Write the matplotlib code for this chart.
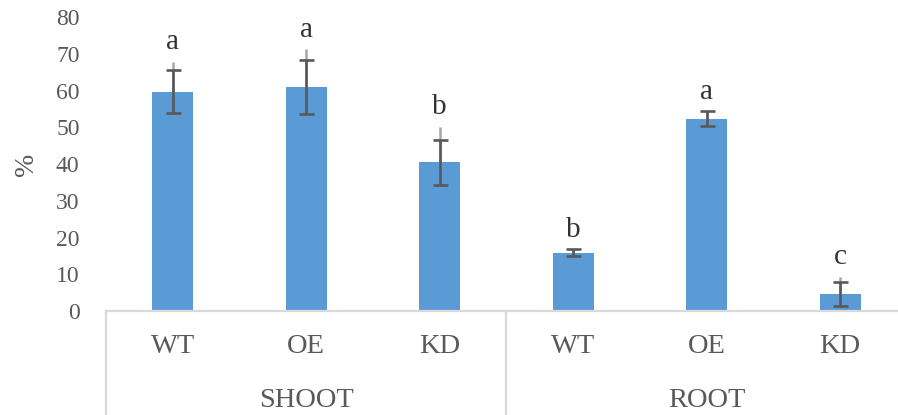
import matplotlib
matplotlib.use('Agg')
import matplotlib.pyplot as plt
import numpy as np

plt.rcParams['font.family'] = ['Liberation Serif', 'DejaVu Serif']

# tissue groups and genotypes
groups = ['SHOOT', 'ROOT']
genotypes = ['WT', 'OE', 'KD']

# mean % per bar (SHOOT WT, OE, KD, ROOT WT, OE, KD)
means = [59.7, 61.0, 40.5, 15.9, 52.3, 4.6]
# standard error (dark capped bars)
errs = [5.8, 7.3, 6.1, 0.9, 2.0, 3.2]
# upper extent of the light whisker above the mean
upper = [8.1, 10.2, 9.6, 0.9, 2.0, 4.7]
# significance letters
letters = ['a', 'a', 'b', 'b', 'a', 'c']

text_col = '#595959'
line_col = '#d9d9d9'

fig = plt.figure(figsize=(8.98, 4.15), dpi=100)
ax = fig.add_axes([0.118, 0.2506, 0.882, 0.7084])

x = np.arange(len(means))
ax.bar(x, means, width=0.305, color='#5B9BD5', zorder=2)

# light whisker first, then the dark capped error bar on top
ax.errorbar(x, means, yerr=[np.zeros(len(means)), upper], fmt='none',
            ecolor='#a6a6a6', elinewidth=1.8, capsize=0, zorder=3)
ax.errorbar(x, means, yerr=errs, fmt='none', ecolor='#595959',
            elinewidth=1.9, capsize=5.4, capthick=1.9, zorder=4)

for xi, m, e, u, lt in zip(x, means, errs, upper, letters):
    top = m + max(e, u)
    ax.annotate(lt, (xi, top), xytext=(0, 9), textcoords='offset points',
                ha='center', va='baseline', fontsize=21, color='#333333')

ax.set_xlim(-0.5, 5.433)
ax.set_ylim(0, 80)
ax.set_yticks(np.arange(0, 81, 10))
ax.tick_params(axis='y', length=0, labelsize=17, labelcolor=text_col, pad=19)
ax.set_xticks([])
for s in ['top', 'right', 'left']:
    ax.spines[s].set_visible(False)
ax.spines['bottom'].set_color(line_col)
ax.spines['bottom'].set_linewidth(1.6)

ax.set_ylabel('%', fontsize=20, color=text_col, labelpad=12)

# two-level category axis
trans = ax.get_xaxis_transform()
for xi in x:
    ax.text(xi, -0.121, genotypes[xi % 3], transform=trans, ha='center',
            va='center', fontsize=20.5, color=text_col)
for gi, g in enumerate(groups):
    ax.text(gi * 3 + 1, -0.303, g, transform=trans, ha='center',
            va='center', fontsize=20.5, color=text_col)
for sep in [-0.5, 2.5, 5.5]:
    ax.plot([sep, sep], [0, -0.36], transform=trans, color=line_col,
            lw=1.6, clip_on=False)

fig.savefig('out.png', dpi=100)
